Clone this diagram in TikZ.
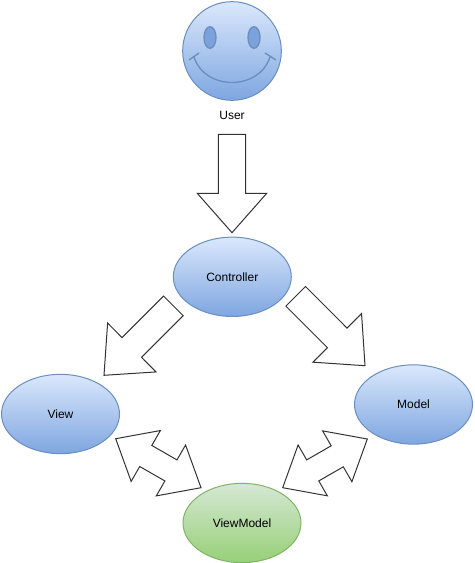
\documentclass[tikz,border=0pt]{standalone}
\usepackage{fontspec}
\setmainfont{Liberation Sans}
\usepackage{xcolor}
\definecolor{blueTop}{HTML}{DAE8FC}
\definecolor{blueBottom}{HTML}{7EA6E0}
\definecolor{blueLine}{HTML}{6C8EBF}
\definecolor{greenTop}{HTML}{D5E8D4}
\definecolor{greenBottom}{HTML}{97D077}
\definecolor{greenLine}{HTML}{82B366}
\definecolor{arrowLine}{HTML}{333333}
\usetikzlibrary{shapes.geometric,calc}

\begin{document}
\begin{tikzpicture}[x=0.75pt, y=-0.75pt,
    every node/.style={font=\fontsize{9}{11}\selectfont},
    blob/.style={ellipse, draw=blueLine, line width=0.75pt, top color=blueTop, bottom color=blueBottom, minimum width=88.5pt, minimum height=59.5pt, inner sep=0pt},
    greenblob/.style={blob, draw=greenLine, top color=greenTop, bottom color=greenBottom},
    face/.style={draw=blueLine, line width=1pt},
    blockarrow/.style args={#1/#2/#3}{draw=arrowLine, line width=0.75pt, line join=miter,
      to path={let \p1=($(\tikztotarget)!#3!(\tikztostart)$) in
        ($(\tikztostart)!#1!90:(\tikztotarget)$) -- ($(\p1)!#1!-90:(\tikztostart)$)
        -- ($(\p1)!#2!-90:(\tikztostart)$) -- (\tikztotarget)
        -- ($(\p1)!#2!90:(\tikztostart)$) -- ($(\p1)!#1!90:(\tikztostart)$)
        -- ($(\tikztostart)!#1!-90:(\tikztotarget)$) -- cycle}},
    twinarrow/.style args={#1/#2/#3}{draw=arrowLine, line width=0.75pt, line join=miter,
      to path={let \p1=($(\tikztotarget)!#3!(\tikztostart)$), \p2=($(\tikztostart)!#3!(\tikztotarget)$) in
        (\tikztostart) -- ($(\p2)!#2!90:(\tikztotarget)$) -- ($(\p2)!#1!90:(\tikztotarget)$)
        -- ($(\p1)!#1!-90:(\tikztostart)$) -- ($(\p1)!#2!-90:(\tikztostart)$) -- (\tikztotarget)
        -- ($(\p1)!#2!90:(\tikztostart)$) -- ($(\p1)!#1!90:(\tikztostart)$)
        -- ($(\p2)!#1!-90:(\tikztotarget)$) -- ($(\p2)!#2!-90:(\tikztotarget)$) -- cycle}}]
  \useasboundingbox (0, 0) rectangle (474, 563);
  % User
  \node[circle, draw=blueLine, line width=0.75pt, top color=blueTop, bottom color=blueBottom, minimum size=74pt, inner sep=0pt] (face) at (232, 51) {};
  \node[ellipse, face, fill=blueBottom!85!blueLine, minimum width=9pt, minimum height=16.2pt, inner sep=0pt] (eyeL) at (210, 37.5) {};
  \node[ellipse, face, fill=blueBottom!85!blueLine, minimum width=9pt, minimum height=16.2pt, inner sep=0pt] (eyeR) at (254, 37.5) {};
  \draw[face] (194, 57) .. controls (205, 91) and (259, 91) .. (270, 57);
  \draw[face] (189, 60) -- (199, 53);
  \draw[face] (265, 53) -- (276, 60);
  \node (user) at (232, 115) {User};
  % Ellipses
  \node[blob] (controller) at (232.3, 276.8) {Controller};
  \node[blob] (view) at (60.5, 414) {View};
  \node[blob] (model) at (413.5, 404.5) {Model};
  \node[greenblob] (viewmodel) at (242, 523) {ViewModel};
  % Arrow ends
  \coordinate (userOut) at (232, 134.3);
  \coordinate (controllerIn) at (232, 232.7);
  \coordinate (viewOut) at (173.4, 305.9);
  \coordinate (viewIn) at (104, 375.3);
  \coordinate (modelOut) at (295.7, 296.3);
  \coordinate (modelIn) at (365, 365.7);
  \coordinate (viewTwin) at (115.7, 438.7);
  \coordinate (vmLeft) at (201, 487.7);
  \coordinate (modelTwin) at (367.3, 439);
  \coordinate (vmRight) at (282.7, 487.7);
  % Arrows
  \draw[blockarrow=10.3pt/26pt/29.5pt] (userOut) to (controllerIn);
  \draw[blockarrow=10.4pt/25.8pt/29.5pt] (viewOut) to (viewIn);
  \draw[blockarrow=10.4pt/25.8pt/29.5pt] (modelOut) to (modelIn);
  \draw[twinarrow=9.1pt/22pt/26pt] (viewTwin) to (vmLeft);
  \draw[twinarrow=9.1pt/22pt/26pt] (modelTwin) to (vmRight);
\end{tikzpicture}
\end{document}
